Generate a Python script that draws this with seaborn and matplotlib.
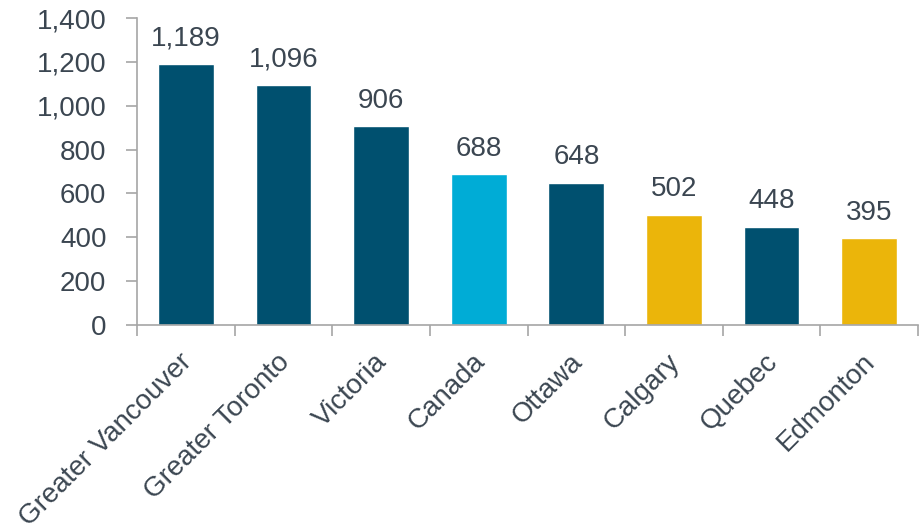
import matplotlib
matplotlib.use("Agg")
import matplotlib.pyplot as plt
import matplotlib.transforms as mtransforms
import seaborn as sns
import pandas as pd
from matplotlib.ticker import FuncFormatter, FixedLocator

regions = ["Greater Vancouver", "Greater Toronto", "Victoria", "Canada",
           "Ottawa", "Calgary", "Quebec", "Edmonton"]
values = [1189, 1096, 906, 688, 648, 502, 448, 395]
bar_colors = ["#00506F", "#00506F", "#00506F", "#00ACD6",
              "#00506F", "#EBB50A", "#00506F", "#EBB50A"]

sns.set_theme(style="white")
plt.rcParams["font.family"] = ["Liberation Sans", "DejaVu Sans"]
text_color = "#3B4651"
axis_color = "#A6A6A6"
fs = 20

df = pd.DataFrame({"region": regions, "value": values})

fig = plt.figure(figsize=(9.19, 5.32), dpi=100)
ax = fig.add_axes([0.149, 0.389, 0.850, 0.577])

sns.barplot(data=df, x="region", y="value", hue="region",
            palette=dict(zip(regions, bar_colors)), legend=False,
            width=0.57, saturation=1, ax=ax)

ax.set_ylim(0, 1400)
ax.set_xlim(-0.5, len(regions) - 0.5)
ax.set_yticks(range(0, 1401, 200))
ax.yaxis.set_major_formatter(FuncFormatter(lambda v, _: f"{int(v):,}"))
ax.set_xlabel("")
ax.set_ylabel("")

for spine in ["top", "right"]:
    ax.spines[spine].set_visible(False)
for spine in ["left", "bottom"]:
    ax.spines[spine].set_color(axis_color)
    ax.spines[spine].set_linewidth(1.2)

ax.tick_params(axis="y", which="major", left=True, length=8, width=1.2,
               color=axis_color, labelsize=fs, labelcolor=text_color, pad=14)
ax.tick_params(axis="x", which="major", bottom=False, labelsize=fs,
               labelcolor=text_color, pad=11)
ax.xaxis.set_minor_locator(FixedLocator([i - 0.5 for i in range(len(regions) + 1)]))
ax.tick_params(axis="x", which="minor", bottom=True, length=8, width=1.2,
               color=axis_color)

ax.set_xticks(range(len(regions)))
ax.set_xticklabels(regions, rotation=45, ha="right", rotation_mode="anchor")
shift = mtransforms.ScaledTranslation(-7 / 100, 0, fig.dpi_scale_trans)
for lbl in ax.get_xticklabels():
    lbl.set_transform(lbl.get_transform() + shift)

for i, v in enumerate(values):
    ax.annotate(f"{v:,}", (i, v), xytext=(0, 9), textcoords="offset points",
                ha="center", va="bottom", fontsize=fs, color=text_color)

fig.savefig("out.png", dpi=100)
